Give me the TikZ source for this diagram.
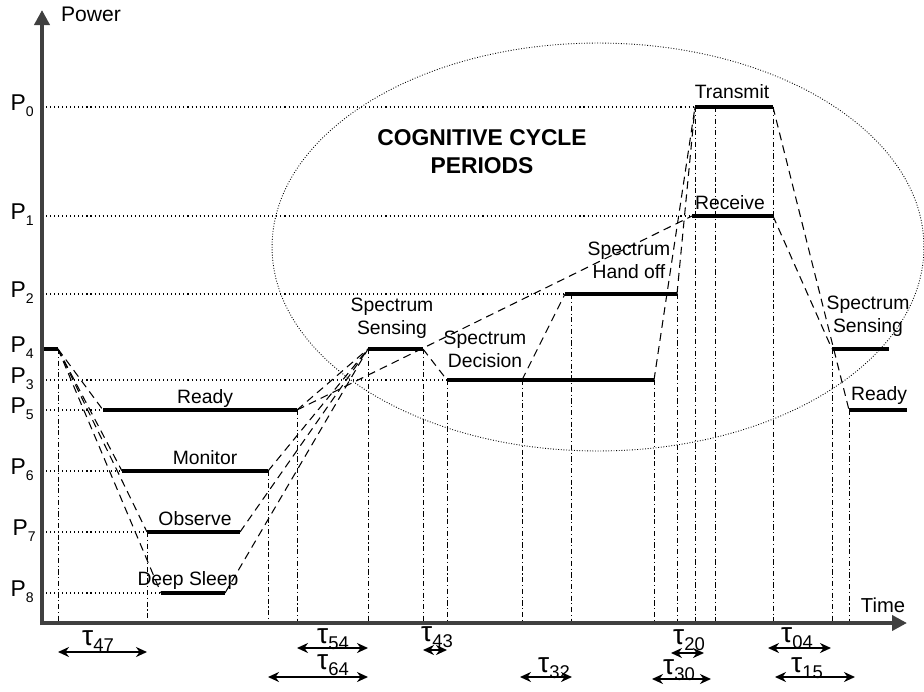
\documentclass[tikz,border=0pt]{standalone}
\usepackage{fontspec}
\setmainfont{Liberation Sans}
\usetikzlibrary{arrows.meta,calc}

\newcommand{\plab}[1]{P\raisebox{-0.5ex}{\fontsize{8}{9}\selectfont #1}}
\newcommand{\tlab}[1]{τ\raisebox{-0.45ex}{\fontsize{10.5}{11}\selectfont #1}}

\begin{document}
\begin{tikzpicture}[x=0.02cm,y=-0.02cm,
    pwr/.style={line width=1.9pt},
    trans/.style={line width=0.6pt,dash pattern=on 4.5pt off 3pt},
    guide/.style={line width=0.6pt,dash pattern=on 0.6pt off 1.7pt},
    drop/.style={line width=0.5pt,dash pattern=on 3pt off 1.5pt on 0.6pt off 1.5pt},
    axis/.style={line width=2.6pt,black!75,-{Triangle[length=0.3cm,width=0.3cm]}},
    span/.style={line width=1.1pt,{Stealth[length=0.22cm,width=0.2cm]}-{Stealth[length=0.22cm,width=0.2cm]}},
    lbl/.style={font=\fontsize{11}{13}\selectfont,align=center,inner sep=0pt},
    plbl/.style={font=\fontsize{13}{14}\selectfont,anchor=east,inner sep=0pt},
    tau/.style={font=\fontsize{16}{17}\selectfont,inner sep=0pt}]
    \useasboundingbox (0,0) rectangle (924,691);

    % levels
    \coordinate (O) at (42,623);
    \coordinate (p4L) at (42,349);   \coordinate (p4R) at (58,349);
    \coordinate (rdyL) at (103,410); \coordinate (rdyR) at (297,410);
    \coordinate (monL) at (122,471); \coordinate (monR) at (268,471);
    \coordinate (obsL) at (147,532); \coordinate (obsR) at (240,532);
    \coordinate (dslL) at (161,593); \coordinate (dslR) at (225,593);
    \coordinate (sseL) at (368,349); \coordinate (sseR) at (423,349);
    \coordinate (sdcL) at (447,380); \coordinate (sdcM) at (522,380); \coordinate (sdcR) at (654,380);
    \coordinate (shoL) at (565,294); \coordinate (shoM) at (571,294); \coordinate (shoR) at (677,294);
    \coordinate (txL) at (695,107);  \coordinate (txM) at (715,107);  \coordinate (txR) at (773,107);
    \coordinate (rxL) at (692,216);  \coordinate (rxR) at (773,216);
    \coordinate (sse2L) at (832,349); \coordinate (sse2R) at (889,349);
    \coordinate (rdy2L) at (849,410); \coordinate (rdy2R) at (907,410);

    % ellipse
    \draw[line width=0.5pt,dash pattern=on 0.5pt off 1pt] (598,247) ellipse [x radius=6.52cm,y radius=4.08cm];

    % guides
    \foreach \p in {txL,rxL,shoL,sdcL,rdyL,monL,obsL,dslL}
        \draw[guide] (O |- \p) -- (\p);
    \foreach \p in {p4R,obsL,monR,rdyR,sseL,sseR,sdcL,sdcM,shoM,sdcR,shoR,txL,txM,txR,sse2L,rdy2L}
        \draw[drop] (\p) -- (\p |- O);

    % transitions
    \foreach \p in {rdyL,monL,obsL,dslL}
        \draw[trans] (p4R) -- (\p);
    \foreach \p in {rdyR,monR,obsR,dslR}
        \draw[trans] (\p) -- (sseL);
    \draw[trans] (rdyR) -- (rxL);
    \draw[trans] (sseR) -- (sdcL);
    \draw[trans] (sdcM) -- (shoL);
    \draw[trans] (sdcR) -- (txL);
    \draw[trans] (shoR) -- (txL);
    \draw[trans] (txR) -- (rdy2L);
    \draw[trans] (rxR) -- (sse2L);

    % bars
    \foreach \a/\b in {p4L/p4R,rdyL/rdyR,monL/monR,obsL/obsR,dslL/dslR,sseL/sseR,sdcL/sdcR,shoL/shoR,txL/txR,rxL/rxR,sse2L/sse2R,rdy2L/rdy2R}
        \draw[pwr] (\a) -- (\b);

    % axes
    \coordinate (ytip) at (42,10);
    \coordinate (xtip) at (907,623);
    \draw[axis] ($(O)+(0,2)$) -- (ytip);
    \draw[axis] ($(O)+(-2,0)$) -- (xtip);

    % labels
    \node[lbl,font=\fontsize{12}{13}\selectfont] (pow) at (91,14) {Power};
    \node[lbl,font=\fontsize{11.5}{13}\selectfont] (tim) at (883,605) {Time};
    \node[lbl,font=\fontsize{13}{16}\selectfont\bfseries] (ccp) at (482,152) {COGNITIVE CYCLE\\PERIODS};
    \node[lbl] (rdyT) at (205,398) {Ready};
    \node[lbl] (monT) at (205,458) {Monitor};
    \node[lbl] (obsT) at (195,519) {Observe};
    \node[lbl] (dslT) at (188,580) {Deep Sleep};
    \node[lbl] (sseT) at (392,318) {Spectrum\\Sensing};
    \node[lbl] (sdcT) at (485,349) {Spectrum\\Decision};
    \node[lbl] (shoT) at (629,260) {Spectrum\\Hand off};
    \node[lbl] (txT) at (732,92) {Transmit};
    \node[lbl] (rxT) at (730,203) {Receive};
    \node[lbl] (sse2T) at (868,316) {Spectrum\\Sensing};
    \node[lbl] (rdy2T) at (879,395) {Ready};

    \node[plbl] (l0) at (34,106) {\plab{0}};
    \node[plbl] (l1) at (34,215) {\plab{1}};
    \node[plbl] (l2) at (34,293) {\plab{2}};
    \node[plbl] (l4) at (34,348) {\plab{4}};
    \node[plbl] (l3) at (34,379) {\plab{3}};
    \node[plbl] (l5) at (34,409) {\plab{5}};
    \node[plbl] (l6) at (34,470) {\plab{6}};
    \node[plbl] (l7) at (36,531) {\plab{7}};
    \node[plbl] (l8) at (34,592) {\plab{8}};

    % periods
    \draw[span] (58,652) -- (147,652);
    \draw[span] (297,648) -- (368,648);
    \draw[span] (268,677) -- (368,677);
    \draw[span] (423,650) -- (447,650);
    \draw[span] (520,677) -- (572,677);
    \draw[span] (671,653) -- (704,653);
    \draw[span] (652,679) -- (711,679);
    \draw[span] (768,648) -- (831,648);
    \draw[span] (775,677) -- (855,677);
    \node[tau] (t47) at (98,641) {\tlab{47}};
    \node[tau] (t54) at (333,639) {\tlab{54}};
    \node[tau] (t64) at (333,665) {\tlab{64}};
    \node[tau] (t43) at (437,637) {\tlab{43}};
    \node[tau] (t32) at (554,668) {\tlab{32}};
    \node[tau] (t20) at (689,640) {\tlab{20}};
    \node[tau] (t30) at (679,670) {\tlab{30}};
    \node[tau] (t04) at (797,638) {\tlab{04}};
    \node[tau] (t15) at (807,668) {\tlab{15}};
\end{tikzpicture}
\end{document}
